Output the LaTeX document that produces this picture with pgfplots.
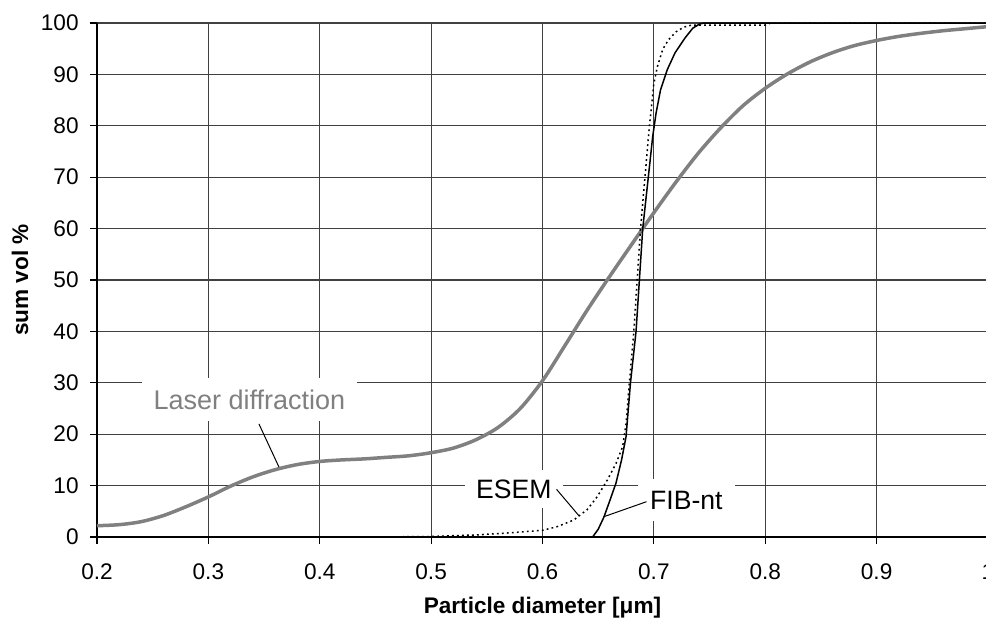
\documentclass[border=0pt]{standalone}
\usepackage{fontspec}
\setmainfont{Liberation Sans}
\usepackage{pgfplots}
\pgfplotsset{compat=1.18}
\definecolor{lgray}{RGB}{128,128,128}
\begin{document}
\begin{tikzpicture}
\begin{axis}[
  at={(0,0)}, anchor=south west,
  scale only axis,
  width=445.5pt, height=257pt,
  xmin=0.2, xmax=1.0, ymin=0, ymax=100,
  xtick={0.2,0.3,0.4,0.5,0.6,0.7,0.8,0.9,1},
  xticklabels={0.2,0.3,0.4,0.5,0.6,0.7,0.8,0.9,1},
  ytick={0,10,20,30,40,50,60,70,80,90,100},
  axis lines=left,
  axis line style={-, black, line width=0.6pt},
  tick align=outside,
  major tick length=3.5pt,
  tick style={black, line width=0.6pt},
  grid=major,
  major grid style={black!75, line width=0.6pt},
  tick label style={font=\fontsize{11.3}{13}\selectfont},
  /pgf/number format/assume math mode=true,
  xticklabel style={anchor=base, inner sep=0pt, yshift=-17.5pt},
  yticklabel style={anchor=east, inner sep=0pt, xshift=-5.5pt},
  xlabel={\textbf{Particle diameter [μm]}},
  ylabel={\textbf{sum vol \%}},
  label style={font=\fontsize{11.3}{13}\selectfont},
  xlabel style={at={(axis description cs:0.5,0)}, anchor=base, yshift=-38.3pt},
  ylabel style={at={(axis description cs:-0.0864,0.5)}, anchor=center},
  clip=false,
]
% Laser diffraction
\addplot[lgray, line width=1.75pt, smooth] coordinates {
(0.20,2.2) (0.22,2.4) (0.24,3.0) (0.26,4.2) (0.28,5.9) (0.30,7.8) (0.32,9.9)
(0.34,11.7) (0.36,13.1) (0.38,14.1) (0.40,14.7) (0.42,15.0) (0.44,15.2) (0.46,15.5)
(0.48,15.8) (0.50,16.4) (0.52,17.3) (0.54,18.9) (0.56,21.3) (0.58,25.0) (0.60,30.4)
(0.62,37.2) (0.64,44.1) (0.66,50.6) (0.68,56.9) (0.70,63.1) (0.72,69.1) (0.74,74.7)
(0.76,79.6) (0.78,83.9) (0.80,87.3) (0.82,90.1) (0.84,92.4) (0.86,94.2) (0.88,95.6)
(0.90,96.6) (0.92,97.4) (0.94,98.0) (0.96,98.5) (0.98,98.9) (1.00,99.3)
};
% ESEM
\addplot[black, line width=0.75pt, dash pattern=on 0.9pt off 1.6pt] coordinates {
(0.20,0) (0.45,0) (0.50,0.1) (0.54,0.4) (0.57,0.8) (0.60,1.3) (0.613,2.0)
(0.628,3.3) (0.634,4.3) (0.640,5.3) (0.649,7.8) (0.658,11) (0.666,14.3)
(0.672,17.6) (0.675,22) (0.678,30) (0.682,40) (0.685,50) (0.688,60) (0.692,70)
(0.696,80) (0.700,88.2) (0.703,91.4) (0.708,94.9) (0.713,96.7) (0.720,98.3)
(0.727,99.2) (0.734,99.6) (0.80,99.6) (0.805,100) (1.0,100)
};
% FIB-nt
\addplot[black, line width=0.75pt] coordinates {
(0.20,0) (0.645,0) (0.650,1.5) (0.655,3.8) (0.660,6.8) (0.666,10.5) (0.671,15)
(0.675,19.5) (0.679,30) (0.684,40) (0.687,50) (0.690,60) (0.695,70) (0.699,78)
(0.702,82.5) (0.706,87) (0.712,90.9) (0.719,94.2) (0.728,97.1) (0.735,99)
(0.741,99.8) (0.745,100) (1.0,100)
};
% labels
\node[fill=white, text=lgray, inner xsep=5.8pt, inner ysep=6pt, font=\fontsize{13.5}{15}\selectfont]
  at (axis cs:0.3369,26.75) {Laser diffraction};
\draw[black, line width=0.5pt] (axis cs:0.3454,22.0) -- (axis cs:0.3634,13.6);
\node[fill=white, text=black, inner xsep=5.8pt, inner ysep=5pt, font=\fontsize{13.3}{15}\selectfont]
  at (axis cs:0.5743,9.34) {ESEM};
\draw[black, line width=0.5pt] (axis cs:0.6126,9.28) -- (axis cs:0.6329,4.09);
\node[fill=white, text=black, inner xsep=6.3pt, inner ysep=6pt, font=\fontsize{13.3}{15}\selectfont]
  at (axis cs:0.7292,7.2) {FIB-nt};
\draw[black, line width=0.5pt] (axis cs:0.6934,6.87) -- (axis cs:0.6551,3.95);
\end{axis}
\pgfresetboundingbox
\path[use as bounding box] (-48.5pt,-40.5pt) rectangle (444.5pt,268.5pt);
\end{tikzpicture}
\end{document}
